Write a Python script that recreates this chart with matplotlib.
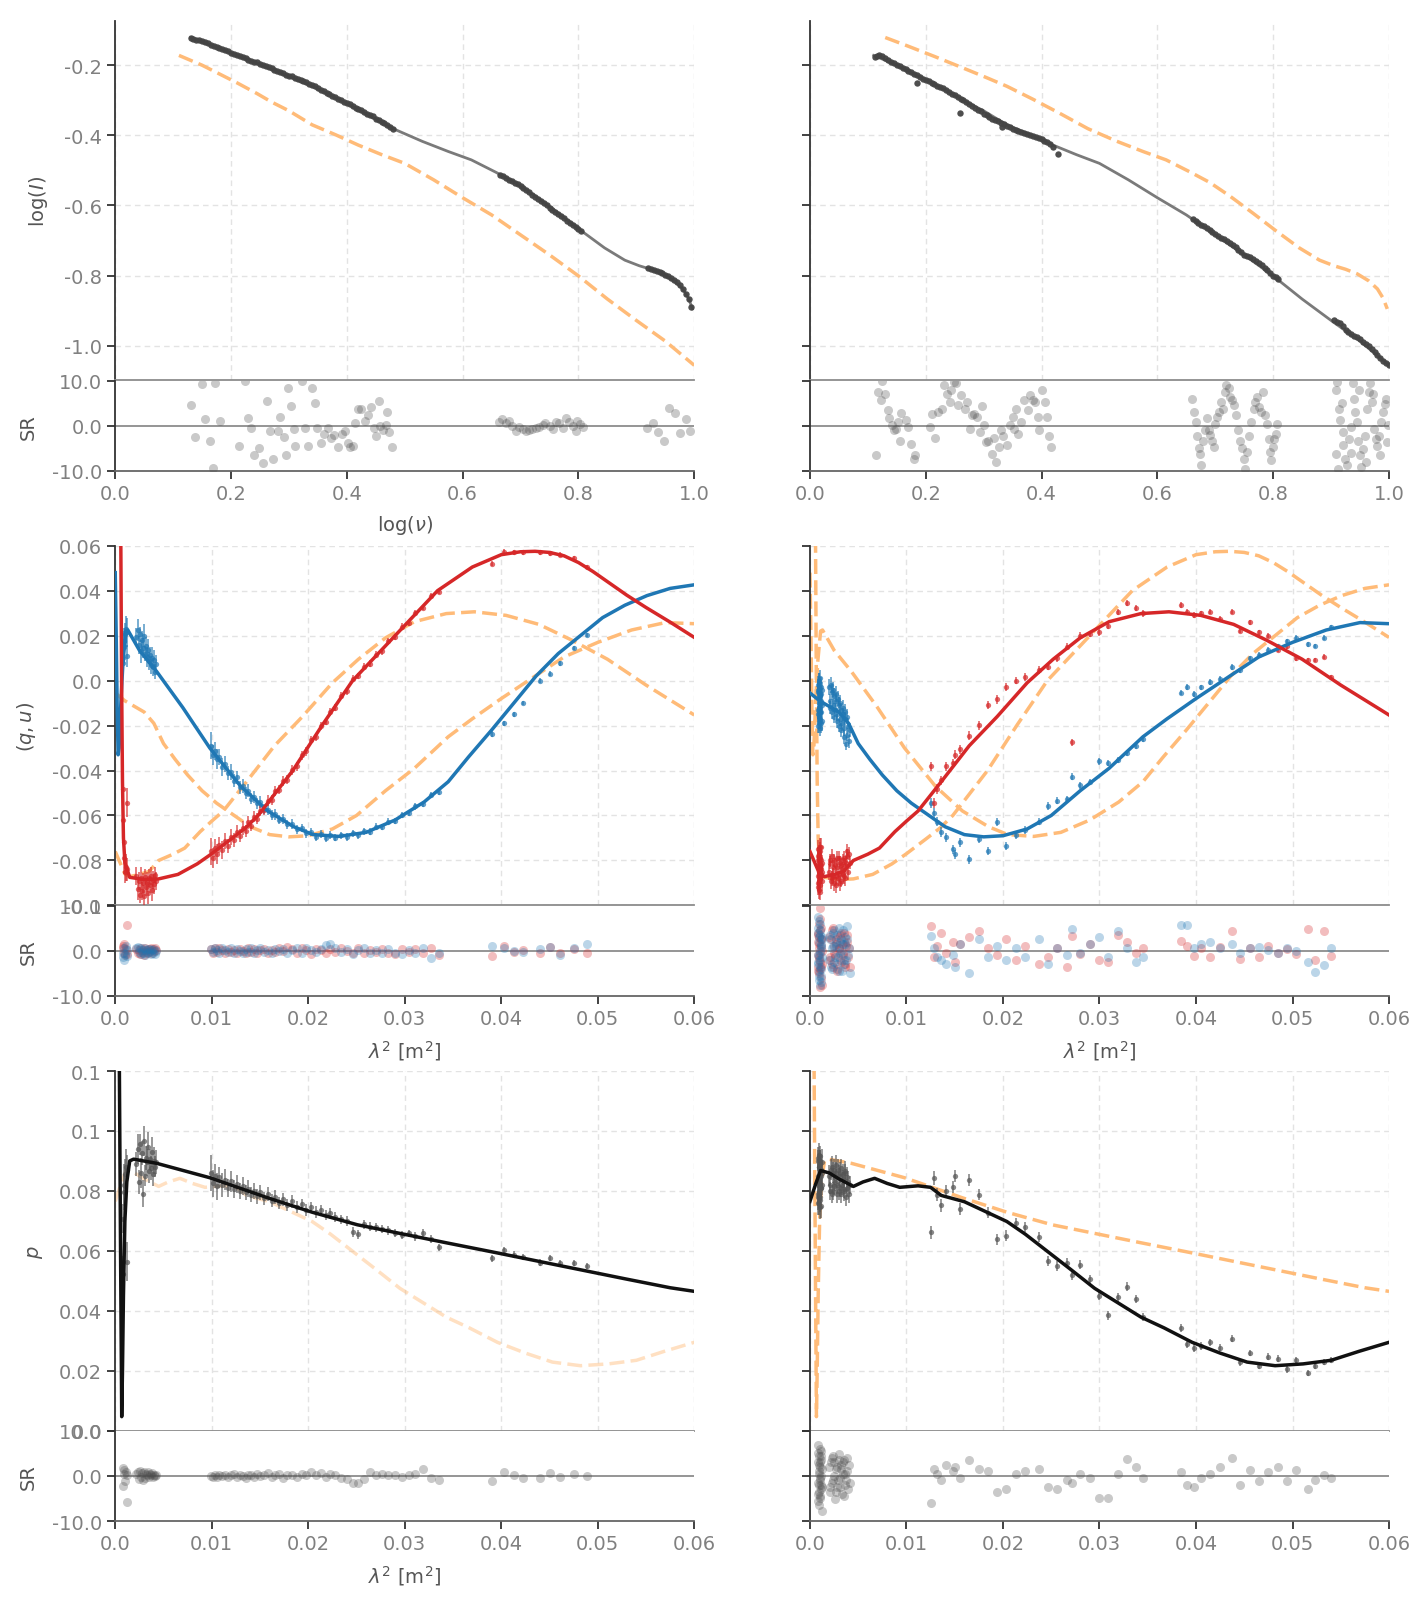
import matplotlib
matplotlib.use("Agg")
import matplotlib.pyplot as plt
from matplotlib.ticker import MultipleLocator, FuncFormatter

# ---------------- row 1: log(I) vs log(nu) ----------------
# model curves (left fit = a, right fit = b)
nu_model_a_x = [0.13, 0.17, 0.215, 0.26, 0.30, 0.34, 0.385, 0.43, 0.48, 0.53, 0.575, 0.615, 0.657,
                0.69, 0.725, 0.765, 0.803, 0.845, 0.88, 0.905, 0.925, 0.945, 0.965, 0.98, 0.99, 0.997]
nu_model_a_y = [-0.121, -0.146, -0.175, -0.205, -0.232, -0.260, -0.297, -0.336, -0.381, -0.417, -0.446,
                -0.470, -0.505, -0.534, -0.573, -0.622, -0.670, -0.721, -0.756, -0.772, -0.782, -0.795,
                -0.815, -0.838, -0.865, -0.895]
nu_model_b_x = [0.11, 0.15, 0.18, 0.21, 0.245, 0.27, 0.30, 0.34, 0.38, 0.42, 0.46, 0.50, 0.55, 0.60,
                0.65, 0.70, 0.75, 0.80, 0.85, 0.90, 0.95, 1.0]
nu_model_b_y = [-0.172, -0.200, -0.225, -0.250, -0.281, -0.305, -0.330, -0.370, -0.398, -0.428, -0.455,
                -0.480, -0.527, -0.578, -0.627, -0.684, -0.741, -0.801, -0.867, -0.928, -0.987, -1.056]

# observed points
nu_a_x = [0.13, 0.14, 0.15, 0.16, 0.17, 0.18, 0.19, 0.20, 0.21, 0.22, 0.23, 0.24, 0.25, 0.26, 0.27, 0.28,
          0.29, 0.30, 0.31, 0.32, 0.33, 0.34, 0.35, 0.36, 0.37, 0.38, 0.39, 0.40, 0.41, 0.42, 0.43, 0.44,
          0.45, 0.46, 0.47, 0.48,
          0.135, 0.145, 0.155, 0.165, 0.175, 0.185, 0.195, 0.205, 0.215, 0.225, 0.235, 0.245, 0.255, 0.265,
          0.275, 0.285, 0.295, 0.305, 0.315, 0.325, 0.335, 0.345, 0.355, 0.365, 0.375, 0.385, 0.395, 0.405,
          0.415, 0.425, 0.435, 0.445, 0.455, 0.465, 0.475,
          0.665, 0.675, 0.685, 0.695, 0.705, 0.715, 0.725, 0.735, 0.745, 0.755, 0.765, 0.775, 0.785, 0.795, 0.805,
          0.670, 0.680, 0.690, 0.700, 0.710, 0.720, 0.730, 0.740, 0.750, 0.760, 0.770, 0.780, 0.790, 0.800,
          0.92, 0.93, 0.94, 0.95, 0.96, 0.97, 0.98, 0.99, 0.995,
          0.925, 0.935, 0.945, 0.955, 0.965, 0.975, 0.985]
nu_a_y = [-0.121, -0.127, -0.131, -0.138, -0.146, -0.151, -0.157, -0.165, -0.170, -0.177, -0.184, -0.190,
          -0.196, -0.203, -0.209, -0.216, -0.223, -0.230, -0.236, -0.243, -0.249, -0.257, -0.265, -0.274,
          -0.283, -0.292, -0.300, -0.309, -0.317, -0.326, -0.334, -0.343, -0.352, -0.361, -0.371, -0.381,
          -0.125, -0.128, -0.135, -0.141, -0.149, -0.155, -0.160, -0.168, -0.174, -0.180, -0.188, -0.192,
          -0.200, -0.205, -0.213, -0.219, -0.227, -0.232, -0.240, -0.245, -0.254, -0.260, -0.270, -0.278,
          -0.288, -0.295, -0.305, -0.312, -0.322, -0.329, -0.339, -0.346, -0.357, -0.365, -0.377,
          -0.513, -0.521, -0.530, -0.540, -0.551, -0.563, -0.575, -0.587, -0.600, -0.612, -0.625, -0.637,
          -0.649, -0.661, -0.673,
          -0.517, -0.526, -0.535, -0.545, -0.557, -0.569, -0.581, -0.594, -0.606, -0.618, -0.631, -0.643,
          -0.655, -0.667,
          -0.778, -0.784, -0.790, -0.797, -0.806, -0.818, -0.838, -0.866, -0.890,
          -0.781, -0.787, -0.793, -0.801, -0.812, -0.828, -0.852]
nu_b_x = [0.112, 0.120, 0.130, 0.140, 0.150, 0.160, 0.170, 0.180, 0.190, 0.200, 0.210, 0.220, 0.230, 0.240,
          0.250, 0.260, 0.270, 0.280, 0.290, 0.300, 0.310, 0.320, 0.330, 0.340, 0.350, 0.360, 0.370, 0.380,
          0.390, 0.400, 0.410, 0.420, 0.185, 0.259, 0.331, 0.428,
          0.116, 0.125, 0.135, 0.145, 0.155, 0.165, 0.175, 0.185, 0.195, 0.205, 0.215, 0.225, 0.235, 0.245,
          0.255, 0.265, 0.275, 0.285, 0.295, 0.305, 0.315, 0.325, 0.335, 0.345, 0.355, 0.365, 0.375, 0.385,
          0.395, 0.405, 0.415,
          0.662, 0.670, 0.680, 0.690, 0.700, 0.710, 0.720, 0.730, 0.740, 0.750, 0.760, 0.770, 0.780, 0.790,
          0.800, 0.808,
          0.666, 0.675, 0.685, 0.695, 0.705, 0.715, 0.725, 0.735, 0.745, 0.755, 0.765, 0.775, 0.785, 0.795,
          0.804,
          0.905, 0.915, 0.925, 0.935, 0.945, 0.955, 0.965, 0.975, 0.985, 0.995, 1.000,
          0.910, 0.920, 0.930, 0.940, 0.950, 0.960, 0.970, 0.980, 0.990]
nu_b_y = [-0.176, -0.170, -0.180, -0.190, -0.199, -0.207, -0.216, -0.225, -0.233, -0.242, -0.250, -0.258,
          -0.266, -0.276, -0.286, -0.295, -0.305, -0.316, -0.327, -0.338, -0.349, -0.357, -0.364, -0.372,
          -0.381, -0.388, -0.393, -0.398, -0.404, -0.411, -0.420, -0.433, -0.252, -0.335, -0.377, -0.452,
          -0.173, -0.175, -0.185, -0.194, -0.203, -0.212, -0.220, -0.229, -0.238, -0.246, -0.254, -0.262,
          -0.271, -0.281, -0.290, -0.300, -0.311, -0.321, -0.332, -0.343, -0.353, -0.360, -0.368, -0.376,
          -0.385, -0.391, -0.395, -0.401, -0.407, -0.415, -0.426,
          -0.640, -0.650, -0.660, -0.670, -0.682, -0.692, -0.700, -0.712, -0.727, -0.740, -0.748, -0.758,
          -0.770, -0.785, -0.800, -0.809,
          -0.645, -0.655, -0.665, -0.676, -0.687, -0.696, -0.706, -0.719, -0.734, -0.744, -0.753, -0.764,
          -0.777, -0.792, -0.805,
          -0.928, -0.935, -0.955, -0.968, -0.975, -0.990, -1.002, -1.018, -1.035, -1.050, -1.056,
          -0.931, -0.945, -0.962, -0.972, -0.982, -0.996, -1.010, -1.026, -1.043]

# standardized residuals
nu_res_a_x = [0.131, 0.137, 0.150, 0.155, 0.164, 0.169, 0.173, 0.181, 0.214, 0.224, 0.229, 0.235, 0.239,
              0.248, 0.255, 0.262, 0.268, 0.273, 0.281, 0.285, 0.291, 0.295, 0.298, 0.304, 0.308, 0.311,
              0.322, 0.328, 0.333, 0.339, 0.345, 0.349, 0.355, 0.360, 0.368, 0.372, 0.378, 0.385, 0.391,
              0.396, 0.402, 0.406, 0.411, 0.414, 0.419, 0.425, 0.432, 0.436, 0.442, 0.447, 0.450, 0.455,
              0.458, 0.463, 0.467, 0.470, 0.473, 0.478,
              0.663, 0.668, 0.674, 0.680, 0.686, 0.692, 0.698, 0.704, 0.710, 0.715, 0.720, 0.726, 0.732,
              0.738, 0.743, 0.750, 0.756, 0.761, 0.767, 0.773, 0.779, 0.784, 0.790, 0.795, 0.798, 0.802, 0.807,
              0.918, 0.929, 0.938, 0.948, 0.957, 0.967, 0.976, 0.985, 0.993]
nu_res_a = [4.6, -2.4, 9.2, 1.5, -3.4, -9.3, 9.5, 1.1, -4.6, 10.0, 1.7, -0.6, -6.5, -5.0, -8.2, 5.5, -1.1,
            -7.3, -1.1, 1.9, -2.4, -6.5, 8.4, 4.4, -0.8, -4.4, 9.8, -0.4, -4.6, 8.4, 5.0, -0.6, -3.8, -1.9,
            -0.4, -2.7, -2.1, -4.7, -1.9, -1.1, -3.8, -4.7, -4.6, 0.6, 3.7, 3.8, 1.1, 2.3, 4.1, -0.6, -2.3,
            5.5, 0.0, -0.9, 0.2, 3.1, -1.4, -4.7,
            0.9, 1.4, 0.6, 1.1, 0.0, -1.1, -0.2, -0.8, -1.2, -0.9, -0.8, -0.5, -0.3, 0.2, 0.6, 0.0, -0.8,
            0.9, 0.5, -0.6, 1.7, 0.8, 0.0, -1.1, 1.1, 0.4, -0.3,
            -0.6, 0.6, -1.4, -3.4, 4.0, 2.9, -1.7, 1.4, -1.1]
nu_res_b_x = [0.114, 0.118, 0.125, 0.122, 0.130, 0.134, 0.137, 0.141, 0.145, 0.149, 0.152, 0.156, 0.158,
              0.165, 0.170, 0.175, 0.180, 0.182, 0.208, 0.211, 0.216, 0.221, 0.228, 0.231, 0.236, 0.241,
              0.244, 0.248, 0.253, 0.256, 0.261, 0.267, 0.271, 0.276, 0.279, 0.284, 0.289, 0.294, 0.297,
              0.300, 0.304, 0.308, 0.314, 0.317, 0.321, 0.327, 0.330, 0.333, 0.341, 0.345, 0.350, 0.353,
              0.356, 0.360, 0.365, 0.370, 0.376, 0.380, 0.385, 0.389, 0.394, 0.396, 0.401, 0.406, 0.409,
              0.413, 0.416,
              0.660, 0.663, 0.667, 0.669, 0.672, 0.674, 0.675, 0.678, 0.682, 0.685, 0.689, 0.691, 0.695,
              0.698, 0.700, 0.703, 0.706, 0.710, 0.713, 0.716, 0.719, 0.723, 0.726, 0.729, 0.733, 0.736,
              0.739, 0.743, 0.746, 0.749, 0.751, 0.754, 0.759, 0.762, 0.766, 0.769, 0.772, 0.776, 0.779,
              0.782, 0.785, 0.789, 0.792, 0.794, 0.797, 0.799, 0.802, 0.805, 0.807,
              0.908, 0.909, 0.911, 0.913, 0.916, 0.920, 0.921, 0.924, 0.927, 0.931, 0.934, 0.937, 0.939,
              0.942, 0.944, 0.947, 0.950, 0.952, 0.955, 0.959, 0.962, 0.965, 0.967, 0.970, 0.974, 0.977,
              0.980, 0.983, 0.987, 0.990, 0.993, 0.997, 0.999,
              0.912, 0.918, 0.935, 0.948, 0.960, 0.972, 0.985, 0.995]
nu_res_b = [-6.6, 7.5, 9.9, 5.7, 7.1, 3.4, 1.7, 0.1, -1.0, -0.7, 0.8, -3.3, 2.9, 1.2, -0.3, -4.0, -7.4, -6.5,
            -0.3, 2.7, -2.8, 3.0, 3.8, 9.1, 7.1, 5.3, 7.9, 9.7, 9.4, 4.5, 6.8, 3.8, 5.3, -0.7, 2.3, 2.7, 1.9,
            -1.4, 4.3, 0.1, -3.6, -3.3, -6.2, -2.8, -8.1, -4.8, -1.0, -2.2, -4.2, 0.1, 1.9, -0.7, 3.6, -1.8,
            0.8, 5.7, 3.4, 6.8, 5.7, 5.3, 1.9, -1.0, 7.9, 5.3, 1.9, -2.2, -4.8,
            5.9, 3.0, 0.8, -2.3, -5.0, -6.2, -8.8, -3.3, -1.0, 1.6, -1.0, -2.0, -3.3, -4.8, 0.4, 1.9, 3.0,
            5.3, 3.8, 7.5, 9.0, 8.3, 6.4, 5.7, 4.5, 2.3, -1.0, -3.3, -5.0, -7.4, -9.6, -5.9, -2.2, 0.8, 3.8,
            5.3, 6.4, 4.2, 3.0, 7.5, 2.3, 0.4, -2.9, -5.9, -7.7, -4.8, -2.9, -1.8, 0.4,
            -6.2, 7.9, 9.6, 3.8, 1.2, -1.4, -4.2, -7.4, -8.8, -2.9, -0.3, 9.4, 6.0, 3.0, 0.8, -3.3, -6.6,
            -9.2, -5.1, -2.2, 3.8, 7.5, 9.4, 5.3, -0.7, -2.9, -4.4, -2.2, 0.8, 3.0, 4.9, -3.6, 0.1,
            -9.5, 5.0, -6.0, 8.0, -8.0, 7.0, -6.5, 6.0]

# ---------------- rows 2-3: q, u, p vs lambda^2 ----------------
q_model_a_x = [0.00050, 0.00058, 0.00066, 0.00075, 0.00085, 0.0010, 0.0015, 0.0030, 0.0045, 0.0065, 0.0085,
               0.0100, 0.0120, 0.0135, 0.0148, 0.0184, 0.0215, 0.0246, 0.0290, 0.0334, 0.0370, 0.0400,
               0.0420, 0.0435, 0.0450, 0.0465, 0.0480, 0.0495, 0.0510, 0.0530, 0.0550, 0.0575, 0.0600]
q_model_a_y = [0.1200, 0.0600, 0.0000, -0.0450, -0.0700, -0.0810, -0.0875, -0.0885, -0.0882, -0.0862,
               -0.0815, -0.0770, -0.0705, -0.0655, -0.0600, -0.0400, -0.0195, 0.0000, 0.0200, 0.0400,
               0.0505, 0.0560, 0.0573, 0.0575, 0.0570, 0.0555, 0.0525, 0.0485, 0.0440, 0.0380, 0.0325,
               0.0260, 0.0192]
u_model_a_x = [0.0000, 0.0001, 0.0002, 0.0003, 0.0004, 0.0006, 0.0008, 0.0011, 0.0013, 0.0025, 0.0043,
               0.0070, 0.0098, 0.0130, 0.0158, 0.0185, 0.0205, 0.0232, 0.0260, 0.0290, 0.0320, 0.0345,
               0.0366, 0.0390, 0.0413, 0.0436, 0.0459, 0.0482, 0.0505, 0.0528, 0.0551, 0.0575, 0.0600]
u_model_a_y = [0.0480, 0.0200, -0.0120, -0.0330, -0.0300, -0.0080, 0.0080, 0.0220, 0.0225, 0.0135, 0.0040,
               -0.0120, -0.0300, -0.0470, -0.0580, -0.0650, -0.0685, -0.0693, -0.0675, -0.0620, -0.0540,
               -0.0450, -0.0340, -0.0220, -0.0100, 0.0020, 0.0120, 0.0200, 0.0280, 0.0335, 0.0378, 0.0410,
               0.0426]
q_model_b_x = [0.0000, 0.0005, 0.0010, 0.0015, 0.0025, 0.0035, 0.0045, 0.0060, 0.0072, 0.0088, 0.0100,
               0.0112, 0.0136, 0.0165, 0.0194, 0.0225, 0.0252, 0.0280, 0.0310, 0.0343, 0.0372, 0.0405,
               0.0439, 0.0473, 0.0510, 0.0550, 0.0600]
q_model_b_y = [-0.0760, -0.0810, -0.0860, -0.0872, -0.0862, -0.0849, -0.0800, -0.0772, -0.0745, -0.0672,
               -0.0625, -0.0580, -0.0450, -0.0290, -0.0160, -0.0010, 0.0095, 0.0190, 0.0262, 0.0298, 0.0306,
               0.0290, 0.0250, 0.0180, 0.0095, -0.0020, -0.0153]
u_model_b_x = [0.0000, 0.0010, 0.0020, 0.0030, 0.0040, 0.0050, 0.0062, 0.0075, 0.0090, 0.0105, 0.0120,
               0.0140, 0.0160, 0.0180, 0.0200, 0.0225, 0.0250, 0.0280, 0.0310, 0.0345, 0.0370, 0.0400,
               0.0435, 0.0465, 0.0500, 0.0535, 0.0570, 0.0600]
u_model_b_y = [-0.0055, -0.0090, -0.0115, -0.0140, -0.0190, -0.0280, -0.0350, -0.0420, -0.0490, -0.0545,
               -0.0590, -0.0650, -0.0685, -0.0695, -0.0690, -0.0660, -0.0600, -0.0490, -0.0390, -0.0250,
               -0.0170, -0.0080, 0.0020, 0.0105, 0.0170, 0.0225, 0.0258, 0.0253]
p_model_a_x = [0.00030, 0.00043, 0.00055, 0.00067, 0.00075, 0.00085, 0.0010, 0.0012, 0.0015, 0.0019, 0.0043,
               0.0098, 0.0158, 0.0204, 0.0251, 0.0297, 0.0343, 0.0390, 0.0436, 0.0482, 0.0528, 0.0575, 0.0600]
p_model_a_y = [0.2000, 0.1200, 0.0600, 0.0047, 0.0200, 0.0450, 0.0700, 0.0830, 0.0900, 0.0906, 0.0892,
               0.0844, 0.0777, 0.0729, 0.0687, 0.0657, 0.0627, 0.0597, 0.0567, 0.0537, 0.0507, 0.0477, 0.0465]
p_model_b_x = [0.0000, 0.0006, 0.0011, 0.0020, 0.0030, 0.0045, 0.0055, 0.0067, 0.0080, 0.0093, 0.0112,
               0.0125, 0.0136, 0.0160, 0.0184, 0.0204, 0.0223, 0.0247, 0.0271, 0.0295, 0.0319, 0.0343,
               0.0367, 0.0396, 0.0425, 0.0453, 0.0482, 0.0511, 0.0540, 0.0569, 0.0600]
p_model_b_y = [0.0765, 0.0824, 0.0868, 0.0860, 0.0840, 0.0815, 0.0830, 0.0842, 0.0825, 0.0812, 0.0817,
               0.0812, 0.0785, 0.0764, 0.0728, 0.0698, 0.0656, 0.0596, 0.0536, 0.0475, 0.0427, 0.0379,
               0.0343, 0.0295, 0.0259, 0.0229, 0.0217, 0.0223, 0.0235, 0.0265, 0.0295]

# left source channels
lam_a = [0.00078, 0.00085, 0.00090, 0.00095, 0.00100, 0.00110, 0.00120, 0.00125,
         0.0022, 0.0024, 0.0025, 0.0026, 0.0027, 0.0028, 0.0029, 0.0030, 0.0031, 0.0032, 0.0033, 0.0034,
         0.0035, 0.0036, 0.0037, 0.0038, 0.0039, 0.0040, 0.0041, 0.0042,
         0.0099, 0.0101, 0.0103, 0.0105, 0.0108, 0.0111, 0.0114, 0.0117, 0.0120, 0.0123, 0.0126, 0.0129,
         0.0132, 0.0135, 0.0138, 0.0141, 0.0144, 0.0147, 0.0150, 0.0154, 0.0158, 0.0162, 0.0166, 0.0170,
         0.0174, 0.0178, 0.0183, 0.0188, 0.0193, 0.0198, 0.0203, 0.0208, 0.0213, 0.0218, 0.0223, 0.0228,
         0.0234, 0.0240, 0.0246, 0.0252, 0.0258, 0.0264, 0.0270, 0.0276, 0.0283, 0.0290, 0.0297, 0.0304,
         0.0311, 0.0319, 0.0327, 0.0335,
         0.0390, 0.0403, 0.0413, 0.0422, 0.0440, 0.0450, 0.0461, 0.0475, 0.0489]
q_a = [-0.0480, -0.0620, -0.0720, -0.0790, -0.0850, -0.0830, -0.0543, -0.0840,
       -0.0870, -0.0925, -0.0890, -0.0955, -0.0880, -0.0935, -0.0900, -0.0960, -0.0875, -0.0920, -0.0895,
       -0.0945, -0.0880, -0.0910, -0.0870, -0.0930, -0.0885, -0.0905, -0.0865, -0.0890,
       -0.0760, -0.0790, -0.0745, -0.0770, -0.0730, -0.0755, -0.0712, -0.0735, -0.0695, -0.0710, -0.0672,
       -0.0690, -0.0655, -0.0668, -0.0630, -0.0645, -0.0605, -0.0615, -0.0578, -0.0575, -0.0535, -0.0530,
       -0.0490, -0.0485, -0.0445, -0.0440, -0.0398, -0.0380, -0.0332, -0.0315, -0.0265, -0.0250, -0.0200,
       -0.0182, -0.0138, -0.0120, -0.0068, -0.0045, 0.0008, 0.0020, 0.0062, 0.0075, 0.0115, 0.0130,
       0.0175, 0.0195, 0.0240, 0.0258, 0.0302, 0.0325, 0.0375, 0.0395,
       0.0520, 0.0574, 0.0570, 0.0570, 0.0570, 0.0566, 0.0559, 0.0543, 0.0505]
u_a = [0.0100, 0.0080, 0.0175, 0.0150, 0.0205, 0.0228, 0.0215, 0.0110,
       0.0195, 0.0225, 0.0160, 0.0205, 0.0130, 0.0180, 0.0145, 0.0200, 0.0120, 0.0155, 0.0105, 0.0135,
       0.0085, 0.0115, 0.0070, 0.0100, 0.0060, 0.0090, 0.0040, 0.0075,
       -0.0290, -0.0330, -0.0315, -0.0350, -0.0340, -0.0385, -0.0370, -0.0412, -0.0405, -0.0445, -0.0430,
       -0.0475, -0.0468, -0.0500, -0.0490, -0.0525, -0.0518, -0.0545, -0.0540, -0.0572, -0.0575, -0.0598,
       -0.0595, -0.0618, -0.0615, -0.0640, -0.0638, -0.0662, -0.0655, -0.0680, -0.0675, -0.0695, -0.0683,
       -0.0700, -0.0685, -0.0698, -0.0688, -0.0695, -0.0680, -0.0688, -0.0670, -0.0672, -0.0650, -0.0652,
       -0.0628, -0.0625, -0.0598, -0.0590, -0.0560, -0.0548, -0.0510, -0.0495,
       -0.0237, -0.0190, -0.0150, -0.0100, 0.0000, 0.0031, 0.0077, 0.0146, 0.0202]
p_a = [0.0524, 0.0708, 0.0797, 0.0819, 0.0858, 0.0880, 0.0564, 0.0870,
       0.0890, 0.0940, 0.0830, 0.0955, 0.0860, 0.0925, 0.0790, 0.0965, 0.0850, 0.0910, 0.0895, 0.0945,
       0.0865, 0.0905, 0.0875, 0.0930, 0.0855, 0.0900, 0.0880, 0.0895,
       0.0860, 0.0825, 0.0850, 0.0815, 0.0845, 0.0820, 0.0838, 0.0810, 0.0832, 0.0805, 0.0822, 0.0800,
       0.0815, 0.0795, 0.0808, 0.0788, 0.0800, 0.0782, 0.0795, 0.0775, 0.0790, 0.0768, 0.0780, 0.0760,
       0.0772, 0.0752, 0.0765, 0.0745, 0.0755, 0.0738, 0.0745, 0.0730, 0.0735, 0.0720, 0.0725, 0.0712,
       0.0705, 0.0700, 0.0662, 0.0655, 0.0688, 0.0680, 0.0678, 0.0672, 0.0668, 0.0660, 0.0652, 0.0658,
       0.0648, 0.0660, 0.0640, 0.0612,
       0.0575, 0.0603, 0.0587, 0.0580, 0.0561, 0.0575, 0.0558, 0.0560, 0.0549]
err_a = [0.0060, 0.0050, 0.0060, 0.0070, 0.0050, 0.0060, 0.0065, 0.0050,
         0.0040, 0.0050, 0.0040, 0.0035, 0.0050, 0.0040, 0.0045, 0.0050, 0.0035, 0.0040, 0.0045, 0.0050,
         0.0040, 0.0035, 0.0040, 0.0050, 0.0040, 0.0045, 0.0035, 0.0040,
         0.0060, 0.0045, 0.0040, 0.0045, 0.0035, 0.0040, 0.0035, 0.0030, 0.0035, 0.0030, 0.0030, 0.0028,
         0.0030, 0.0026, 0.0028, 0.0025, 0.0026, 0.0024, 0.0025, 0.0023, 0.0024, 0.0022, 0.0023, 0.0021,
         0.0022, 0.0020, 0.0021, 0.0020, 0.0019, 0.0020, 0.0018, 0.0019, 0.0018, 0.0017, 0.0018, 0.0017,
         0.0016, 0.0017, 0.0016, 0.0015, 0.0016, 0.0015, 0.0015, 0.0014, 0.0015, 0.0014, 0.0014, 0.0013,
         0.0014, 0.0013, 0.0013, 0.0012,
         0.0012, 0.0011, 0.0012, 0.0010, 0.0011, 0.0010, 0.0011, 0.0010, 0.0010]
sr_q_a = [1.0, 0.5, -0.5, 1.5, -1.0, 0.3, 5.7, -0.8,
          0.3, -0.5, 0.2, -0.8, 0.5, -0.2, 0.1, -0.9, 0.6, -0.3, 0.2, -0.6, 0.4, -0.1, 0.5, -0.4, 0.3, 0.0,
          0.6, 0.1,
          0.3, -0.4, 0.5, -0.2, 0.6, 0.1, -0.5, 0.4, -0.3, 0.2, -0.6, 0.3, 0.0, -0.4, 0.5, -0.2, 0.3, -0.6,
          0.1, 0.4, -0.5, 0.2, -0.3, 0.6, -0.1, 0.8, 0.3, -0.4, 0.5, 0.2, -0.7, 0.4, 0.1, -0.5, 0.3, -0.2,
          0.6, 0.0, -0.4, 0.5, -0.6, 0.2, -0.3, 0.4, -0.5, -0.8, 0.3, -0.2, 0.4, -0.6, 0.5, -0.9,
          -1.2, 1.0, -0.3, 0.2, -0.5, 0.8, -0.4, 0.3, -0.4]
sr_u_a = [-0.5, -1.5, 0.5, -2.0, -0.8, 1.0, 0.2, -1.2,
          0.5, 0.9, -0.3, 0.6, -0.8, 0.2, -0.4, 0.7, -0.9, 0.1, -0.6, 0.3, -0.2, 0.4, -0.7, 0.2, -0.5, 0.3,
          -0.8, 0.0,
          0.4, -0.2, 0.6, 0.1, -0.4, 0.5, 0.2, -0.3, 0.7, -0.5, 0.3, 0.0, -0.6, 0.4, -0.2, 0.5, -0.4, 0.2,
          0.6, -0.3, 0.1, -0.5, 0.4, -0.1, 0.3, -0.6, 0.2, 0.5, -0.4, 0.7, 0.1, -0.3, 0.4, 1.2, 1.5, 0.6,
          -0.2, 0.3, -0.7, 0.2, 0.5, -0.4, 0.1, -0.6, 0.3, -0.5, -0.8, 0.2, -0.4, 0.6, -1.6, -0.6,
          1.0, 0.5, 0.0, -0.2, 0.4, 0.8, -1.0, 0.5, 1.5]
sr_p_a = [-2.2, 1.8, 1.2, 0.5, -1.2, 0.8, -5.8, 0.3,
          0.5, 0.8, -0.6, 1.0, -0.3, 0.6, -1.0, 0.9, -0.4, 0.5, 0.2, 0.8, -0.2, 0.4, 0.1, 0.7, -0.3, 0.3,
          0.0, 0.2,
          0.0, -0.2, 0.1, -0.3, 0.2, -0.1, 0.3, -0.2, 0.1, 0.4, -0.3, 0.2, 0.0, -0.4, 0.3, 0.1, -0.2, 0.5,
          -0.1, 0.2, 0.6, -0.3, 0.1, 0.4, -0.5, 0.2, 0.3, -0.2, 0.5, 0.1, 0.9, 0.3, 0.6, -0.3, 0.4, 0.2,
          -0.4, -0.8, -1.5, -1.5, -0.6, 0.8, 0.2, 0.5, 0.3, 0.2, -0.2, 0.1, 0.5, 1.6, -0.5, -1.0,
          -1.2, 0.9, 0.3, -0.4, -0.5, 0.6, -0.3, 0.4, 0.0]

# right source channels
lam_b = [0.00080, 0.00083, 0.00086, 0.00089, 0.00092, 0.00095, 0.00098, 0.00101, 0.00104, 0.00107,
         0.00110, 0.00113, 0.00116, 0.00119, 0.00122, 0.00125, 0.00128,
         0.00081, 0.00084, 0.00087, 0.00090, 0.00093, 0.00096, 0.00099, 0.00102, 0.00105, 0.00108,
         0.00111, 0.00114,
         0.00200, 0.00212, 0.00224, 0.00236, 0.00248, 0.00260, 0.00272, 0.00284, 0.00296, 0.00308,
         0.00320, 0.00332, 0.00344, 0.00356, 0.00368, 0.00380, 0.00392, 0.00404, 0.00416,
         0.00206, 0.00218, 0.00230, 0.00242, 0.00254, 0.00266, 0.00278, 0.00290, 0.00302, 0.00314,
         0.00326, 0.00338, 0.00350, 0.00362, 0.00374, 0.00386,
         0.0125, 0.0129, 0.0132, 0.0136, 0.0141, 0.0148, 0.0150, 0.0155, 0.0165, 0.0175, 0.0184, 0.0194,
         0.0203, 0.0213, 0.0223, 0.0237, 0.0247, 0.0256, 0.0266, 0.0271, 0.0280, 0.0290, 0.0300, 0.0309,
         0.0319, 0.0328, 0.0338, 0.0345,
         0.0384, 0.0391, 0.0398, 0.0405, 0.0415, 0.0425, 0.0437, 0.0446, 0.0456, 0.0465, 0.0475, 0.0485,
         0.0494, 0.0504, 0.0516, 0.0523, 0.0533, 0.0540]
q_b = [-0.0780, -0.0900, -0.0750, -0.0860, -0.0820, -0.0930, -0.0790, -0.0880, -0.0760, -0.0910, -0.0840,
       -0.0800, -0.0870, -0.0740, -0.0890, -0.0810, -0.0850,
       -0.0870, -0.0800, -0.0920, -0.0770, -0.0850, -0.0890, -0.0740, -0.0830, -0.0940, -0.0790, -0.0860,
       -0.0820,
       -0.0850, -0.0800, -0.0880, -0.0830, -0.0900, -0.0820, -0.0870, -0.0790, -0.0860, -0.0810, -0.0890,
       -0.0840, -0.0800, -0.0870, -0.0820, -0.0780, -0.0850, -0.0770, -0.0810,
       -0.0810, -0.0890, -0.0780, -0.0870, -0.0800, -0.0910, -0.0830, -0.0880, -0.0790, -0.0900, -0.0820,
       -0.0860, -0.0790, -0.0880, -0.0810, -0.0760,
       -0.0382, -0.0543, -0.0482, -0.0444, -0.0382, -0.0367, -0.0330, -0.0306, -0.0245, -0.0199, -0.0107,
       -0.0084, -0.0030, 0.0000, 0.0015, 0.0046, 0.0061, 0.0100, 0.0150, -0.0275, 0.0199, 0.0207, 0.0214,
       0.0245, 0.0306, 0.0344, 0.0322, 0.0299,
       0.0337, 0.0306, 0.0291, 0.0299, 0.0306, 0.0276, 0.0306, 0.0222, 0.0260, 0.0214, 0.0199, 0.0138,
       0.0153, 0.0100, 0.0092, 0.0092, 0.0107, 0.0015]
u_b = [-0.0050, -0.0150, -0.0020, -0.0190, -0.0080, -0.0120, 0.0000, -0.0170, -0.0060, -0.0210, -0.0100,
       -0.0030, -0.0140, -0.0090, -0.0180, -0.0040, -0.0110,
       -0.0130, -0.0040, -0.0200, -0.0100, -0.0010, -0.0160, -0.0070, -0.0140, 0.0010, -0.0120, -0.0190,
       -0.0060,
       -0.0030, -0.0090, -0.0050, -0.0110, -0.0070, -0.0130, -0.0090, -0.0150, -0.0110, -0.0170, -0.0130,
       -0.0190, -0.0150, -0.0210, -0.0170, -0.0240, -0.0200, -0.0270, -0.0220,
       -0.0120, -0.0020, -0.0140, -0.0040, -0.0160, -0.0060, -0.0180, -0.0080, -0.0200, -0.0100, -0.0220,
       -0.0120, -0.0250, -0.0140, -0.0280, -0.0160,
       -0.0543, -0.0589, -0.0627, -0.0673, -0.0696, -0.0750, -0.0772, -0.0719, -0.0795, -0.0704, -0.0757,
       -0.0627, -0.0734, -0.0688, -0.0665, -0.0627, -0.0558, -0.0535, -0.0528, -0.0428, -0.0466, -0.0451,
       -0.0359, -0.0367, -0.0352, -0.0321, -0.0290, -0.0260,
       -0.0053, -0.0030, -0.0061, -0.0030, -0.0007, 0.0008, 0.0061, 0.0046, 0.0100, 0.0115, 0.0138, 0.0153,
       0.0176, 0.0191, 0.0161, 0.0153, 0.0191, 0.0237]
p_b = [0.0790, 0.0910, 0.0760, 0.0880, 0.0830, 0.0920, 0.0800, 0.0890, 0.0770, 0.0900, 0.0850, 0.0810,
       0.0870, 0.0750, 0.0895, 0.0820, 0.0860,
       0.0850, 0.0780, 0.0900, 0.0760, 0.0840, 0.0880, 0.0745, 0.0820, 0.0915, 0.0780, 0.0870, 0.0810,
       0.0850, 0.0820, 0.0880, 0.0800, 0.0870, 0.0830, 0.0860, 0.0790, 0.0850, 0.0810, 0.0875, 0.0820,
       0.0840, 0.0800, 0.0860, 0.0810, 0.0830, 0.0790, 0.0820,
       0.0800, 0.0870, 0.0790, 0.0860, 0.0815, 0.0885, 0.0820, 0.0870, 0.0800, 0.0860, 0.0790, 0.0855,
       0.0805, 0.0865, 0.0780, 0.0845,
       0.0662, 0.0843, 0.0788, 0.0752, 0.0800, 0.0812, 0.0849, 0.0740, 0.0836, 0.0788, 0.0728, 0.0638,
       0.0650, 0.0692, 0.0680, 0.0645, 0.0566, 0.0550, 0.0560, 0.0518, 0.0554, 0.0506, 0.0451, 0.0385,
       0.0445, 0.0481, 0.0439, 0.0379,
       0.0343, 0.0289, 0.0277, 0.0283, 0.0295, 0.0277, 0.0307, 0.0229, 0.0259, 0.0217, 0.0247, 0.0241,
       0.0205, 0.0235, 0.0193, 0.0217, 0.0229, 0.0235]
err_b = [0.0040, 0.0035, 0.0040, 0.0045, 0.0035, 0.0040, 0.0035, 0.0045, 0.0040, 0.0035, 0.0040, 0.0045,
         0.0035, 0.0040, 0.0045, 0.0035, 0.0040,
         0.0040, 0.0045, 0.0035, 0.0040, 0.0045, 0.0035, 0.0040, 0.0045, 0.0035, 0.0040, 0.0045, 0.0035,
         0.0035, 0.0030, 0.0035, 0.0030, 0.0035, 0.0030, 0.0035, 0.0030, 0.0035, 0.0030, 0.0030, 0.0035,
         0.0030, 0.0035, 0.0030, 0.0030, 0.0035, 0.0030, 0.0030,
         0.0030, 0.0035, 0.0030, 0.0035, 0.0030, 0.0035, 0.0030, 0.0035, 0.0030, 0.0035, 0.0030, 0.0035,
         0.0030, 0.0035, 0.0030, 0.0035,
         0.0022, 0.0022, 0.0021, 0.0021, 0.0020, 0.0020, 0.0020, 0.0019, 0.0019, 0.0019, 0.0018, 0.0018,
         0.0018, 0.0017, 0.0017, 0.0017, 0.0016, 0.0016, 0.0016, 0.0016, 0.0015, 0.0015, 0.0015, 0.0015,
         0.0014, 0.0014, 0.0014, 0.0014,
         0.0013, 0.0013, 0.0013, 0.0012, 0.0012, 0.0012, 0.0012, 0.0012, 0.0011, 0.0011, 0.0011, 0.0011,
         0.0011, 0.0011, 0.0010, 0.0010, 0.0010, 0.0010]
sr_q_b = [2.0, -3.5, 4.0, -1.5, 0.5, -5.0, 3.0, -2.5, 9.5, -4.0, 1.0, -6.0, 2.5, 5.0, -3.0, 0.0, -7.5,
          -1.0, 3.5, -4.5, 6.0, 1.5, -2.0, 7.0, -0.5, -8.0, 4.5, -3.5, 2.5,
          3.0, -2.0, 4.5, -3.5, 1.0, -1.0, 2.5, -4.0, 0.5, 3.5, -2.5, 1.5, -0.5, 4.0, -3.0, 2.0, -1.5, 0.5,
          -3.5,
          -1.5, 2.5, -3.0, 5.0, -0.5, 1.5, -4.5, 3.0, 0.5, -2.0, 4.0, -1.0, 2.0, -3.5, 1.0, 3.5,
          5.4, -1.5, 1.0, 4.0, -0.5, 2.0, -2.5, 1.5, 3.0, 4.4, 0.5, -1.0, 2.5, -2.0, 1.0, -3.0, -1.5, 0.5,
          -3.5, 3.3, -0.8, 1.5, -2.0, -2.5, 3.5, 2.0, -0.5, 0.5,
          2.1, 1.0, -1.1, 0.5, -1.5, 0.8, 4.4, -1.9, 0.5, -1.5, 1.0, -0.5, 0.3, -0.8, 4.8, -2.0, 4.4, -1.1]
sr_u_b = [-3.0, 5.0, -1.0, 6.5, -4.5, 2.0, -6.5, 3.5, -2.0, 4.5, 0.5, -5.5, 1.5, -7.0, 3.0, -1.5, 2.5,
          4.0, -2.5, 7.5, -1.0, -5.5, 3.0, 0.0, -3.5, 6.0, -7.5, 1.0, -4.0,
          -2.0, 3.5, -4.0, 1.0, 4.5, -1.5, 2.0, -3.0, 5.0, -0.5, 2.5, -4.5, 1.5, -2.0, 3.0, 5.5, -1.0, 0.5,
          -5.0,
          2.5, -3.5, 0.5, 4.0, -2.5, 1.0, 3.5, -1.5, -4.5, 2.0, 0.0, 4.5, -3.0, 1.5, -2.0, 2.5,
          3.3, 0.5, -1.5, -2.0, -3.0, -1.0, -3.5, 1.5, -4.9, 2.5, -1.5, 1.0, -2.0, 0.5, -1.5, 2.5, -3.0, 0.5,
          -1.0, 4.9, -0.5, 1.5, 3.0, -1.5, 4.4, 0.5, -2.5, -1.5,
          5.7, 5.7, 0.5, 1.5, 2.0, 0.5, 1.5, -0.5, 0.5, 0.8, 0.2, -0.5, 0.5, 0.0, -2.5, -4.7, -3.2, 0.5]
sr_p_b = [3.0, -4.0, 6.8, -2.0, 1.0, -6.4, 4.5, -1.0, 2.0, -5.0, 5.5, 0.0, -3.0, 3.5, -7.8, 1.5, -2.5,
          -1.5, 5.0, -5.5, 2.5, 0.5, -3.5, 6.0, -0.5, -4.5, 3.0, -2.0, 4.5,
          2.0, -3.5, 4.0, -1.0, 3.0, -5.2, 1.5, -2.5, 4.8, -0.5, 2.5, -4.0, 0.5, 3.5, -2.0, 1.0, -3.0, 2.5,
          -1.5,
          -2.5, 3.0, -1.5, 4.5, 0.0, -3.5, 2.0, -1.0, 3.5, -2.5, 1.5, 3.0, -4.5, 0.5, -1.0, 4.0,
          -6.0, 1.5, 0.5, -1.0, 2.5, 1.0, 2.0, -0.5, 3.5, 1.5, 1.0, -3.6, -3.0, 0.5, 1.0, 1.5, -2.4, -2.8,
          -1.0, -1.5, 0.5, -0.5, -5.0, -5.0, 0.5, 3.8, 2.0, -0.5,
          0.8, -2.0, -2.4, -0.4, 0.4, 2.0, 4.0, -2.0, 1.2, -1.2, 0.8, 2.0, -1.2, 1.2, -2.8, -1.0, 0.2, -0.4]

# ---------------- figure ----------------
plt.rcParams['font.family'] = ['DejaVu Sans']
plt.rcParams['mathtext.fontset'] = 'dejavusans'

ORANGE = '#ffbb78'
RED = '#d62728'
BLUE = '#1f77b4'
TICK_C = '#808080'
LABEL_C = '#555555'
DARK = '#333333'
FS = 14
YPAD = 10
XPAD = 7

fig = plt.figure(figsize=(14.28, 16.06), dpi=100)

COL_X = [0.0807, 0.5672]
COL_W = 0.4055
MAIN_B = [0.7625, 0.4356, 0.1085]
RES_B = [0.7062, 0.3793, 0.0523]
MAIN_H = 0.2240
RES_H = 0.0562


def fmt_1f(v, pos):
    return '{:.1f}'.format(round(v, 6) + 0.0)


def fmt_g1(v, pos):
    v = round(v, 6) + 0.0
    if v == 0:
        return '0.0'
    return format(v, '.1')


def main_axes(row, col):
    ax = fig.add_axes([COL_X[col], MAIN_B[row], COL_W, MAIN_H])
    ax.grid(True, ls=(0, (4, 3)), color='#e3e3e3', lw=1.0)
    ax.set_axisbelow(True)
    ax.spines['top'].set_visible(False)
    ax.spines['right'].set_visible(False)
    ax.spines['bottom'].set_color('#8c8c8c')
    ax.spines['bottom'].set_linewidth(1.3)
    ax.spines['left'].set_color(DARK)
    ax.spines['left'].set_linewidth(1.3)
    ax.tick_params(axis='x', bottom=False, labelbottom=False)
    ax.tick_params(axis='y', length=6, width=1.3, color=DARK, labelcolor=TICK_C,
                   labelsize=FS, labelleft=(col == 0))
    return ax


def res_axes(row, col):
    ax = fig.add_axes([COL_X[col], RES_B[row], COL_W, RES_H])
    ax.spines['top'].set_visible(False)
    ax.spines['right'].set_visible(False)
    ax.spines['bottom'].set_color('#666666')
    ax.spines['bottom'].set_linewidth(1.3)
    ax.spines['left'].set_color(DARK)
    ax.spines['left'].set_linewidth(1.3)
    ax.axhline(0, color='#8c8c8c', lw=1.3, zorder=1)
    ax.set_ylim(-10, 10)
    ax.set_yticks([-10, 0, 10])
    ax.yaxis.set_major_formatter(FuncFormatter(fmt_1f))
    ax.tick_params(length=6, width=1.3, color=DARK, labelcolor=TICK_C, labelsize=FS)
    ax.tick_params(axis='y', labelleft=(col == 0))
    return ax


def res_points(ax, x, y, color):
    ax.plot(x, y, 'o', ms=6.5, color=color, alpha=0.3, mew=0, zorder=3)


def ebar(ax, x, y, e, color, alpha=0.7):
    ax.errorbar(x, y, yerr=e, fmt='o', ms=3.8, mew=0, color=color, ecolor=color,
                elinewidth=1.2, capsize=2.8, capthick=1.1, alpha=alpha, zorder=3)


dash = (0, (4.3, 1.8))

# ---- row 1 ----
row1 = [(nu_model_a_x, nu_model_a_y, nu_model_b_x, nu_model_b_y, nu_a_x, nu_a_y, nu_res_a_x, nu_res_a),
        (nu_model_b_x, nu_model_b_y, nu_model_a_x, nu_model_a_y, nu_b_x, nu_b_y, nu_res_b_x, nu_res_b)]
for col, (mx, my, ox, oy, dx, dy, rx, ry) in enumerate(row1):
    ax = main_axes(0, col)
    ax.plot(ox, oy, color=ORANGE, ls=dash, lw=2.5, zorder=2)
    ax.plot(mx, my, color='#7a7a7a', lw=2.0, zorder=3)
    ax.plot(dx, dy, 'o', ms=4.6, color='#444444', mew=0, alpha=0.95, zorder=4)
    ax.set_xlim(0, 1)
    ax.set_ylim(-1.099, -0.073)
    ax.xaxis.set_major_locator(MultipleLocator(0.2))
    ax.yaxis.set_major_locator(MultipleLocator(0.2))
    ax.yaxis.set_major_formatter(FuncFormatter(fmt_1f))
    if col == 0:
        ax.set_ylabel('log($I$)', fontsize=FS, color=LABEL_C, labelpad=YPAD)
    rax = res_axes(0, col)
    res_points(rax, rx, ry, '#4d4d4d')
    rax.set_xlim(0, 1)
    rax.xaxis.set_major_locator(MultipleLocator(0.2))
    rax.xaxis.set_major_formatter(FuncFormatter(fmt_1f))
    if col == 0:
        rax.set_ylabel('SR', fontsize=FS, color=LABEL_C, labelpad=YPAD)
        rax.set_xlabel('log($\\nu$)', fontsize=FS, color=LABEL_C, labelpad=XPAD)

LAM_LABEL = '$\\lambda^2$ [m$^2$]'

# ---- row 2 ----
row2 = [(q_model_a_x, q_model_a_y, u_model_a_x, u_model_a_y,
         q_model_b_x, q_model_b_y, u_model_b_x, u_model_b_y,
         lam_a, q_a, u_a, err_a, sr_q_a, sr_u_a),
        (q_model_b_x, q_model_b_y, u_model_b_x, u_model_b_y,
         q_model_a_x, q_model_a_y, u_model_a_x, u_model_a_y,
         lam_b, q_b, u_b, err_b, sr_q_b, sr_u_b)]
for col, (qx, qy, ux, uy, oqx, oqy, oux, ouy, lam, qd, ud, er, srq, sru) in enumerate(row2):
    ax = main_axes(1, col)
    ax.plot(oqx, oqy, color=ORANGE, ls=dash, lw=2.5, zorder=2)
    ax.plot(oux, ouy, color=ORANGE, ls=dash, lw=2.5, zorder=2)
    ebar(ax, lam, ud, er, BLUE)
    ebar(ax, lam, qd, er, RED)
    ax.plot(ux, uy, color=BLUE, lw=2.5, zorder=4)
    ax.plot(qx, qy, color=RED, lw=2.5, zorder=4)
    ax.set_xlim(0, 0.06)
    ax.set_ylim(-0.1, 0.06)
    ax.xaxis.set_major_locator(MultipleLocator(0.01))
    ax.yaxis.set_major_locator(MultipleLocator(0.02))
    ax.yaxis.set_major_formatter(FuncFormatter(fmt_g1))
    if col == 0:
        ax.set_ylabel('$(q,u)$', fontsize=FS, color=LABEL_C, labelpad=YPAD)
    rax = res_axes(1, col)
    res_points(rax, lam, srq, RED)
    res_points(rax, lam, sru, BLUE)
    rax.set_xlim(0, 0.06)
    rax.xaxis.set_major_locator(MultipleLocator(0.01))
    rax.xaxis.set_major_formatter(FuncFormatter(fmt_g1))
    rax.set_xlabel(LAM_LABEL, fontsize=FS, color=LABEL_C, labelpad=XPAD)
    if col == 0:
        rax.set_ylabel('SR', fontsize=FS, color=LABEL_C, labelpad=YPAD)

# ---- row 3 ----
row3 = [(p_model_a_x, p_model_a_y, p_model_b_x, p_model_b_y, lam_a, p_a, err_a, sr_p_a, 0.45),
        (p_model_b_x, p_model_b_y, p_model_a_x, p_model_a_y, lam_b, p_b, err_b, sr_p_b, 1.0)]
for col, (px, py, opx, opy, lam, pd_, er, srp, oalpha) in enumerate(row3):
    ax = main_axes(2, col)
    ax.plot(opx, opy, color=ORANGE, ls=dash, lw=2.5, alpha=oalpha, zorder=2)
    ebar(ax, lam, pd_, er, '#555555')
    ax.plot(px, py, color='#111111', lw=2.5, zorder=4)
    ax.set_xlim(0, 0.06)
    ax.set_ylim(0, 0.12)
    ax.xaxis.set_major_locator(MultipleLocator(0.01))
    ax.yaxis.set_major_locator(MultipleLocator(0.02))
    ax.yaxis.set_major_formatter(FuncFormatter(fmt_g1))
    if col == 0:
        ax.set_ylabel('$p$', fontsize=FS, color=LABEL_C, labelpad=YPAD)
    rax = res_axes(2, col)
    res_points(rax, lam, srp, '#4d4d4d')
    rax.set_xlim(0, 0.06)
    rax.xaxis.set_major_locator(MultipleLocator(0.01))
    rax.xaxis.set_major_formatter(FuncFormatter(fmt_g1))
    if col == 0:
        rax.set_ylabel('SR', fontsize=FS, color=LABEL_C, labelpad=YPAD)
        rax.set_xlabel(LAM_LABEL, fontsize=FS, color=LABEL_C, labelpad=XPAD)

fig.savefig('out.png', dpi=100)
